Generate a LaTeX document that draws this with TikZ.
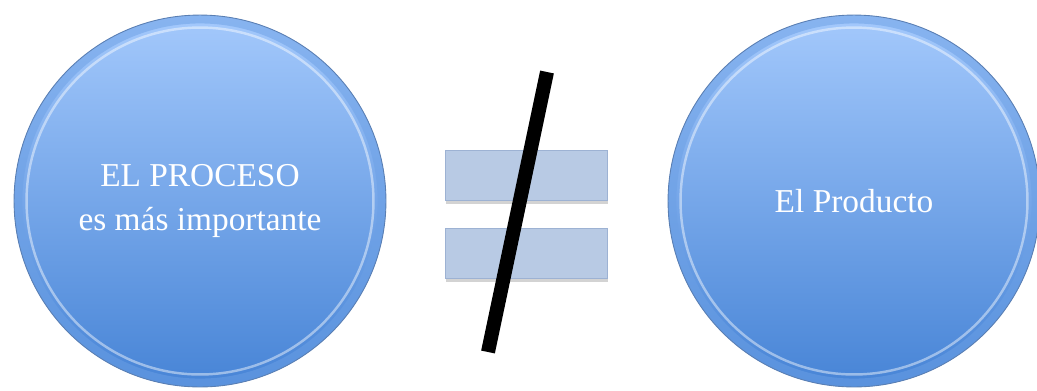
\documentclass[tikz,border=0pt]{standalone}
\usepackage{fontspec}
\setmainfont{Liberation Serif}
\usetikzlibrary{shadows}
\definecolor{balltop}{HTML}{A4C9FC}
\definecolor{ballbot}{HTML}{4784D6}
\definecolor{ballrim}{HTML}{5A7FB3}
\definecolor{barfill}{HTML}{B8CAE4}
\definecolor{baredge}{HTML}{9DB2D3}
\tikzset{
  bubble/.style={circle, minimum size=7.44cm, inner sep=0pt,
    top color=balltop, bottom color=ballbot, draw=ballrim, line width=0.5pt,
    text=white, align=center, font=\fontsize{19}{25.5}\selectfont,
    path picture={
      \draw[white, opacity=0.45, line width=1.4pt]
        (path picture bounding box.center) circle (3.47cm);
      \draw[ballbot!60!balltop, opacity=0.5, line width=5pt]
        (path picture bounding box.center) circle (3.64cm);}},
  bar/.style={rectangle, minimum width=3.24cm, minimum height=1cm,
    fill=barfill, draw=baredge, line width=0.4pt,
    drop shadow={shadow xshift=0.5pt, shadow yshift=-2pt, opacity=0.35}},
  slash/.style={line width=0.28cm, black}
}

\begin{document}
\begin{tikzpicture}[x=0.02cm, y=-0.02cm]
  \useasboundingbox (0,0) rectangle (1037,390);
  % the two balls
  \node[bubble] (proceso) at (200,201) {EL PROCESO\\es más importante};
  \node[bubble] (producto) at (854,201) {El Producto};
  % the crossed equals sign
  \node[bar] (upper) at (526,175) {};
  \node[bar] (lower) at (526,253) {};
  \coordinate (slash top) at (547,72);
  \coordinate (slash end) at (488,352);
  \draw[slash] (slash top) -- (slash end);
\end{tikzpicture}
\end{document}
